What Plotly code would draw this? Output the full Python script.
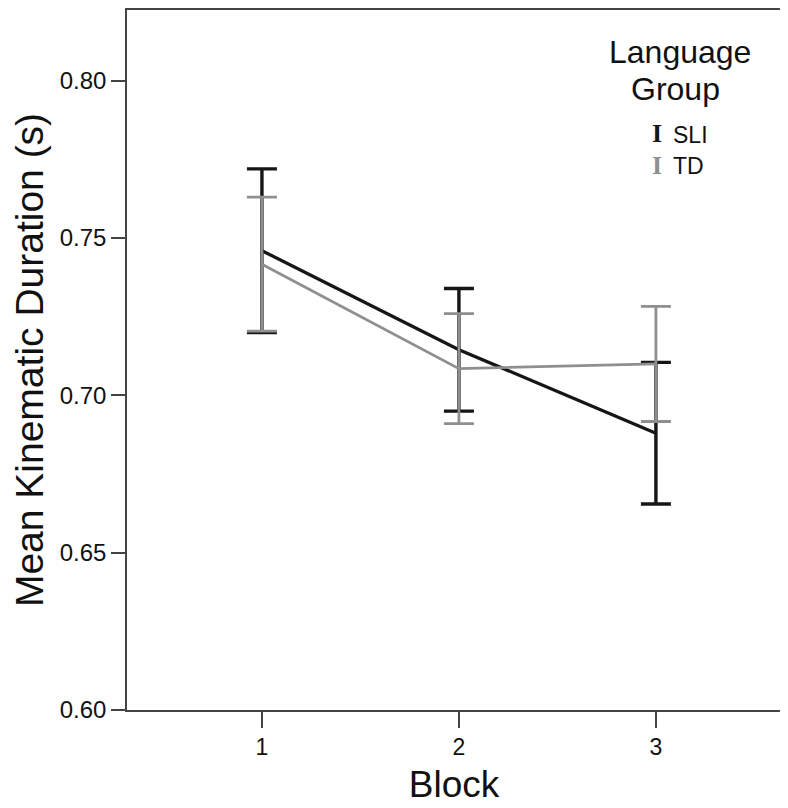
import plotly.graph_objects as go

blocks = [1, 2, 3]
sli_mean = [0.746, 0.7145, 0.688]
sli_err = [0.026, 0.0195, 0.0225]
td_mean = [0.7417, 0.7085, 0.710]
td_err = [0.0213, 0.0175, 0.0183]
y_ticks = [0.60, 0.65, 0.70, 0.75, 0.80]
y_tick_labels = ["0.60", "0.65", "0.70", "0.75", "0.80"]

SLI_COLOR = "#161616"
TD_COLOR = "#8f8f8f"
FONT = "Liberation Sans, Arial, sans-serif"
SERIF = "Liberation Serif, serif"

fig = go.Figure()
fig.add_trace(go.Scatter(
    x=blocks, y=sli_mean, mode="lines", name="SLI",
    line=dict(color=SLI_COLOR, width=3.3),
    error_y=dict(type="data", array=sli_err, visible=True,
                 color=SLI_COLOR, thickness=3.4, width=15),
    showlegend=False))
fig.add_trace(go.Scatter(
    x=blocks, y=td_mean, mode="lines", name="TD",
    line=dict(color=TD_COLOR, width=2.8),
    error_y=dict(type="data", array=td_err, visible=True,
                 color=TD_COLOR, thickness=2.8, width=15),
    showlegend=False))

# Legend drawn as text
fig.add_annotation(xref="x", yref="y", x=3.12, y=0.8092, text="Language",
                   showarrow=False, font=dict(family=FONT, size=32, color="#111"),
                   xanchor="center", yanchor="middle")
fig.add_annotation(xref="x", yref="y", x=3.10, y=0.7974, text="Group",
                   showarrow=False, font=dict(family=FONT, size=32, color="#111"),
                   xanchor="center", yanchor="middle")
fig.add_annotation(xref="x", yref="y", x=3.005, y=0.7832,
                   text="<b>I</b>", showarrow=False,
                   font=dict(family=SERIF, size=26, color=SLI_COLOR),
                   xanchor="center", yanchor="middle")
fig.add_annotation(xref="x", yref="y", x=3.075, y=0.7828, text="SLI",
                   showarrow=False, font=dict(family=FONT, size=23, color="#111"),
                   xanchor="left", yanchor="middle")
fig.add_annotation(xref="x", yref="y", x=3.005, y=0.7732,
                   text="<b>I</b>", showarrow=False,
                   font=dict(family=SERIF, size=26, color=TD_COLOR),
                   xanchor="center", yanchor="middle")
fig.add_annotation(xref="x", yref="y", x=3.075, y=0.7730, text="TD",
                   showarrow=False, font=dict(family=FONT, size=23, color="#111"),
                   xanchor="left", yanchor="middle")

fig.update_layout(
    width=788, height=808,
    margin=dict(l=119, r=15, t=0, b=106),
    paper_bgcolor="white", plot_bgcolor="white",
    font=dict(family=FONT, color="#111"),
)
fig.update_xaxes(
    range=[0.315, 3.635], tickvals=blocks, ticktext=[str(b) for b in blocks],
    ticks="outside", ticklen=16, tickwidth=1.5, tickcolor="#444",
    showline=True, linecolor="#444", linewidth=1.5, mirror=True,
    showgrid=False, zeroline=False,
    tickfont=dict(size=23, family=FONT, color="#111"),
    title=dict(text="Block", font=dict(size=37, family=FONT, color="#111"), standoff=12),
)
fig.update_yaxes(
    range=[0.6, 0.8225], tickvals=y_ticks, ticktext=y_tick_labels,
    ticks="outside", ticklen=14, tickwidth=1.5, tickcolor="#444",
    showline=True, linecolor="#444", linewidth=1.5, mirror=True,
    showgrid=False, zeroline=False,
    tickfont=dict(size=24, family=FONT, color="#111"),
    title=dict(text="Mean Kinematic Duration (s)", font=dict(size=39, family=FONT, color="#111"), standoff=4),
)

fig.write_html("out.html")
